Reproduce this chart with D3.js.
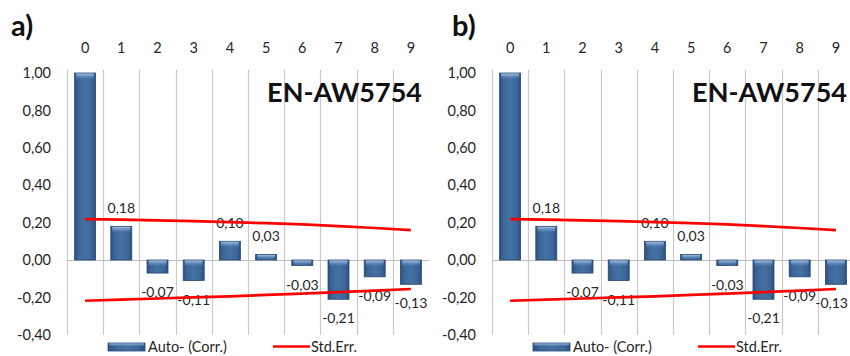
<!DOCTYPE html>
<html>
<head>
<meta charset="utf-8">
<script src="https://cdn.jsdelivr.net/npm/d3@7/dist/d3.min.js"></script>
<style>
  html, body { margin: 0; padding: 0; background: #ffffff; }
  svg { display: block; }
  text { font-family: Lato, "Open Sans", "Liberation Sans", sans-serif; }
</style>
</head>
<body>
<svg id="chart" width="850" height="356"></svg>
<script>
// Autocorrelation of the series, lags 0..9
const lags = [0, 1, 2, 3, 4, 5, 6, 7, 8, 9];
const acf = [1.00, 0.18, -0.07, -0.11, 0.10, 0.03, -0.03, -0.21, -0.09, -0.13];
// Standard-error band (upper and lower)
const stdErrUpper = [0.219, 0.216, 0.212, 0.208, 0.203, 0.197, 0.190, 0.181, 0.171, 0.160];
const stdErrLower = [-0.218, -0.212, -0.206, -0.200, -0.194, -0.187, -0.180, -0.172, -0.164, -0.155];
const yTicks = [-0.40, -0.20, 0.00, 0.20, 0.40, 0.60, 0.80, 1.00];
const panelLetters = ["a)", "b)"];
const sampleName = "EN-AW5754";
const legendLabels = ["Auto- (Corr.)", "Std.Err."];

const locale = d3.formatLocale({ decimal: ",", thousands: ".", grouping: [3], currency: ["", ""], minus: "-" });
const fmt = locale.format(".2f");

const W = 850;
const svg = d3.select("#chart");
const defs = svg.append("defs");

// bevelled bar body: darker edges, lighter middle
const gBody = defs.append("linearGradient").attr("id", "barBody").attr("x1", 0).attr("x2", 1).attr("y1", 0).attr("y2", 0);
gBody.append("stop").attr("offset", "0").attr("stop-color", "#2b4f7f");
gBody.append("stop").attr("offset", "0.18").attr("stop-color", "#3d6697");
gBody.append("stop").attr("offset", "0.5").attr("stop-color", "#4571a4");
gBody.append("stop").attr("offset", "0.82").attr("stop-color", "#3d6697");
gBody.append("stop").attr("offset", "1").attr("stop-color", "#2b4f7f");
// top highlight of the bevel
const gTop = defs.append("linearGradient").attr("id", "barTop").attr("x1", 0).attr("x2", 0).attr("y1", 0).attr("y2", 1);
gTop.append("stop").attr("offset", "0").attr("stop-color", "#a9c6ea").attr("stop-opacity", 0.95);
gTop.append("stop").attr("offset", "1").attr("stop-color", "#5f88bb").attr("stop-opacity", 0);

const panels = [
  { x0: 67, letterX: 11, titleRight: 422, legendX: 108 },
  { x0: 492, letterX: 452, titleRight: 847, legendX: 533 }
];
const plotW = 362;
const textColor = "#262626";
const labelSize = 14.5;

const y = d3.scaleLinear().domain([-0.40, 1.00]).range([334.8, 73]);

panels.forEach((p, pi) => {
  const g = svg.append("g");
  const x = d3.scaleBand().domain(lags).range([p.x0, p.x0 + plotW]).padding(0);
  const barW = x.bandwidth() * 0.58;
  const cx = d => x(d) + x.bandwidth() / 2;

  // vertical gridlines at category boundaries
  g.append("g").selectAll("line").data(lags).join("line")
    .attr("x1", d => Math.round(x(d)) + 0.5).attr("x2", d => Math.round(x(d)) + 0.5)
    .attr("y1", y(1.0) - 3).attr("y2", y(-0.40))
    .attr("stroke", "#c9c9c9").attr("stroke-width", 1.2);

  // zero line
  g.append("line")
    .attr("x1", p.x0).attr("x2", p.x0 + plotW)
    .attr("y1", Math.round(y(0)) + 0.5).attr("y2", Math.round(y(0)) + 0.5)
    .attr("stroke", "#bdbdbd").attr("stroke-width", 1);

  // y axis labels
  const yAxis = d3.axisLeft(y).tickValues(yTicks).tickSize(0).tickPadding(16).tickFormat(fmt);
  const ya = g.append("g").attr("transform", `translate(${p.x0},0)`).call(yAxis);
  ya.select(".domain").remove();
  ya.selectAll("text").attr("font-size", labelSize).attr("fill", textColor)
    .attr("font-family", "Lato, 'Open Sans', sans-serif");

  // x axis labels along the top
  const xAxis = d3.axisTop(x).tickSize(0).tickPadding(3);
  const xa = g.append("g").attr("transform", "translate(0,56)").call(xAxis);
  xa.select(".domain").remove();
  xa.selectAll("text").attr("font-size", labelSize).attr("fill", textColor)
    .attr("font-family", "Lato, 'Open Sans', sans-serif");

  // bars
  const bars = g.append("g").selectAll("g").data(lags).join("g");
  bars.append("rect")
    .attr("x", d => cx(d) - barW / 2)
    .attr("y", (d, i) => y(Math.max(0, acf[i])))
    .attr("width", barW)
    .attr("height", (d, i) => Math.abs(y(acf[i]) - y(0)))
    .attr("fill", "url(#barBody)")
    .attr("stroke", "#2a4a74").attr("stroke-width", 0.8);
  bars.append("rect")
    .attr("x", d => cx(d) - barW / 2 + 1.5)
    .attr("y", (d, i) => y(Math.max(0, acf[i])) + 0.5)
    .attr("width", barW - 3)
    .attr("height", (d, i) => Math.min(6, Math.abs(y(acf[i]) - y(0)) - 1))
    .attr("fill", "url(#barTop)");

  // value labels (lag 0 is not labelled); keep them inside the drawing
  const vl = g.append("g").selectAll("text").data(lags.slice(1)).join("text")
    .attr("x", d => cx(d))
    .attr("y", d => acf[d] >= 0 ? y(acf[d]) - 13 : y(acf[d]) + 24)
    .attr("text-anchor", "middle")
    .attr("font-size", 14).attr("fill", textColor)
    .text(d => fmt(acf[d]));
  vl.each(function (d) {
    const w = this.getComputedTextLength();
    const c = cx(d);
    if (c + w / 2 > W - 2) d3.select(this).attr("x", W - 2 - w / 2);
  });

  // standard-error lines
  const line = d3.line().x((d, i) => cx(lags[i])).y(d => y(d));
  [stdErrUpper, stdErrLower].forEach(s => {
    g.append("path").attr("d", line(s))
      .attr("fill", "none").attr("stroke", "#ff0000").attr("stroke-width", 2.7);
  });

  // sample name
  g.append("text").attr("x", p.titleRight).attr("y", 102)
    .attr("text-anchor", "end").attr("font-size", 27).attr("font-weight", 700)
    .attr("fill", "#111111").text(sampleName);

  // panel letter
  g.append("text").attr("x", p.letterX).attr("y", 36)
    .attr("font-size", 29).attr("font-weight", 700).attr("fill", "#111111")
    .text(panelLetters[pi]);

  // legend
  const lg = g.append("g").attr("transform", `translate(${p.legendX},0)`);
  lg.append("rect").attr("x", 0).attr("y", 343).attr("width", 37).attr("height", 8)
    .attr("fill", "url(#barBody)").attr("stroke", "#2a4a74").attr("stroke-width", 0.8);
  lg.append("rect").attr("x", 1).attr("y", 343.5).attr("width", 35).attr("height", 3)
    .attr("fill", "url(#barTop)");
  lg.append("text").attr("x", 40).attr("y", 352).attr("font-size", labelSize).attr("fill", textColor)
    .text(legendLabels[0]);
  lg.append("line").attr("x1", 165).attr("x2", 202).attr("y1", 346.5).attr("y2", 346.5)
    .attr("stroke", "#ff0000").attr("stroke-width", 2.7);
  lg.append("text").attr("x", 203).attr("y", 352).attr("font-size", labelSize).attr("fill", textColor)
    .text(legendLabels[1]);
});
</script>
</body>
</html>
